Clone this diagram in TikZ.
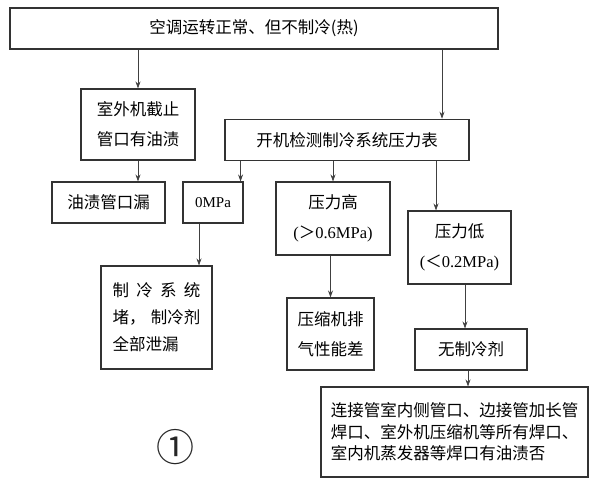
\documentclass[tikz,border=0pt]{standalone}
\usepackage{fontspec}
\setmainfont{Liberation Serif}
\newfontfamily\cjk{Noto Sans CJK SC}
\usetikzlibrary{arrows.meta}
\begin{document}
\begin{tikzpicture}[x=1pt,y=-1pt,
  box/.style={draw=black!80, line width=1.1pt, inner sep=0pt, align=center,
    font=\cjk\fontsize{16.5}{30}\selectfont},
  arr/.style={draw=black!75, line width=0.8pt, -{Stealth[length=7pt,width=5pt]}}]
\useasboundingbox[fill=white] (0,0) rectangle (595,489);

\node[box, minimum width=488pt, minimum height=41pt] (top) at (254,28.5) {空调运转正常、但不制冷(热)};
\node[box, minimum width=114pt, minimum height=71pt] (A) at (138,124.5) {室外机截止\\管口有油渍};
\node[box, minimum width=244pt, minimum height=41.5pt] (B) at (347,140) {开机检测制冷系统压力表};
\node[box, minimum width=113pt, minimum height=41pt] (C) at (108.5,202.5) {油渍管口漏};
\node[box, minimum width=60pt, minimum height=41pt, font=\fontsize{15}{18}\selectfont] (D) at (213,202.5) {0MPa};
\node[box, minimum width=114pt, minimum height=73pt] (E) at (333,218.5) {压力高\\{\rmfamily(}＞{\rmfamily0.6MPa)}};
\node[box, minimum width=103pt, minimum height=73pt] (F) at (459.5,247.5) {压力低\\{\rmfamily(}＜{\rmfamily0.2MPa)}};
\node[box, minimum width=111pt, minimum height=103pt, align=left, font=\cjk\fontsize{16.5}{27}\selectfont] (G) at (156.5,317.5)
  {\makebox[88pt][s]{制\hfill 冷\hfill 系\hfill 统}\\\makebox[88pt][s]{堵，\hfill 制冷剂}\\全部泄漏};
\node[box, minimum width=87pt, minimum height=72pt] (H) at (330.5,334) {压缩机排\\气性能差};
\node[box, minimum width=112pt, minimum height=41pt] (I) at (471,349.5) {无制冷剂};
\node[box, minimum width=267pt, minimum height=90pt, align=left, font=\cjk\fontsize{16.5}{21.5}\selectfont] (J) at (454.5,432)
  {连接管室内侧管口、边接管加长管\\焊口、室外机压缩机等所有焊口、\\室内机蒸发器等焊口有油渍否};
\node[inner sep=0pt, text=black!85, font=\cjk\fontsize{38}{38}\selectfont] (n1) at (175,447) {①};

\draw[arr] (top.south -| A) -- (A.north);
\draw[arr] ([xshift=95pt]B.north |- top.south) -- ([xshift=95pt]B.north);
\draw[arr] (A.south) -- (A.south |- C.north);
\draw[arr] ([xshift=-3pt]D.north east |- B.south) -- ([xshift=-3pt]D.north east);
\draw[arr] (E.north |- B.south) -- (E.north);
\draw[arr] ([xshift=-23.5pt]F.north |- B.south) -- ([xshift=-23.5pt]F.north);
\draw[arr] ([xshift=-14pt]D.south) -- ([xshift=-14pt]D.south |- G.north);
\draw[arr] (H.north |- E.south) -- (H.north);
\draw[arr] ([xshift=5.5pt]F.south) -- ([xshift=5.5pt]F.south |- I.north);
\draw[arr] ([xshift=-3pt]I.south) -- ([xshift=-3pt]I.south |- J.north);
\end{tikzpicture}
\end{document}
